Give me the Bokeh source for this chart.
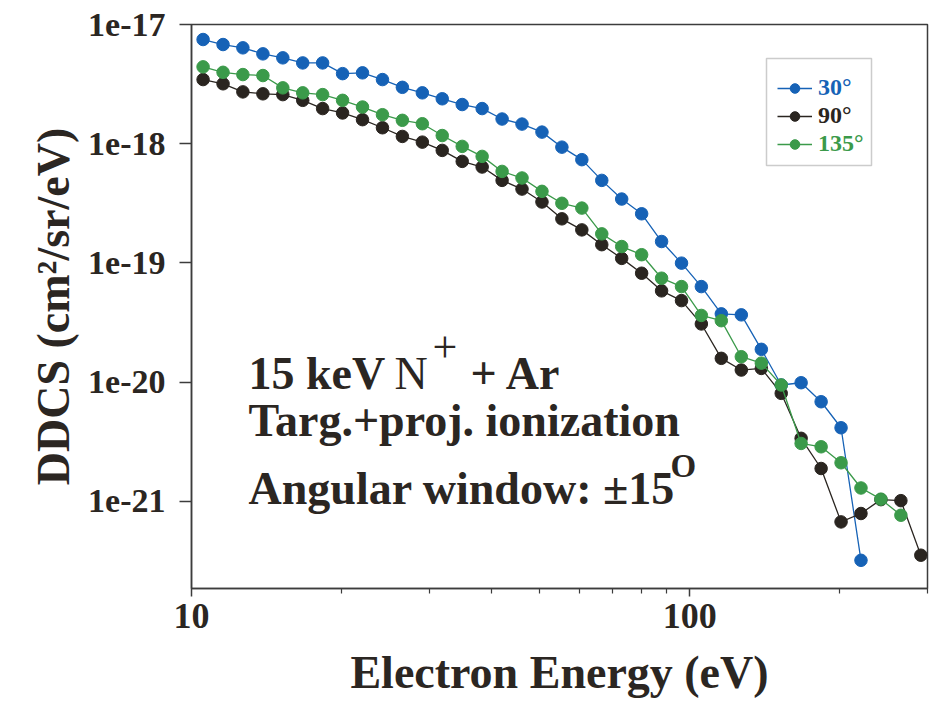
from bokeh.plotting import figure
from bokeh.models import (FixedTicker, CustomJSTickFormatter, Legend, LegendItem,
                          Label, BoxAnnotation, Range1d)
from bokeh.embed import file_html
from bokeh.resources import INLINE

# ---------------- data ----------------
energy_eV = [10.55, 11.57, 12.68, 13.91, 15.25, 16.72, 18.33, 20.10, 22.04, 24.17,
             26.50, 29.06, 31.86, 34.94, 38.31, 42.01, 46.06, 50.51, 55.38, 60.73,
             66.59, 73.01, 80.06, 87.79, 96.26, 105.5, 115.7, 126.9, 139.2, 152.6,
             167.3, 183.5, 201.2, 220.6, 241.9, 265.3, 290.9]

ddcs_30 = [7.48e-18, 6.79e-18, 6.37e-18, 5.67e-18, 5.25e-18, 4.76e-18, 4.76e-18, 3.87e-18,
           3.93e-18, 3.45e-18, 2.97e-18, 2.67e-18, 2.38e-18, 2.13e-18, 1.97e-18, 1.61e-18,
           1.46e-18, 1.25e-18, 9.35e-19, 7.34e-19, 4.92e-19, 3.43e-19, 2.58e-19, 1.51e-19,
           9.94e-20, 6.32e-20, 3.73e-20, 3.66e-20, 1.88e-20, 9.44e-21, 9.86e-21, 6.83e-21,
           4.13e-21, 3.19e-22]

ddcs_90 = [3.45e-18, 3.18e-18, 2.72e-18, 2.62e-18, 2.58e-18, 2.31e-18, 1.97e-18, 1.81e-18,
           1.59e-18, 1.36e-18, 1.15e-18, 1.03e-18, 8.78e-19, 7.10e-19, 6.37e-19, 4.92e-19,
           4.16e-19, 3.24e-19, 2.34e-19, 1.89e-19, 1.42e-19, 1.09e-19, 8.18e-20, 5.82e-20,
           4.82e-20, 3.07e-20, 1.58e-20, 1.26e-20, 1.30e-20, 8.03e-21, 3.37e-21, 1.88e-21,
           6.70e-22, 7.88e-22, 1.03e-21, 1.01e-21, 3.52e-22]

ddcs_135 = [4.41e-18, 3.97e-18, 3.80e-18, 3.73e-18, 2.94e-18, 2.67e-18, 2.58e-18, 2.31e-18,
            2.03e-18, 1.75e-18, 1.57e-18, 1.47e-18, 1.17e-18, 9.49e-19, 7.82e-19, 5.85e-19,
            5.15e-19, 3.98e-19, 3.16e-19, 2.88e-19, 1.75e-19, 1.37e-19, 1.17e-19, 7.43e-20,
            6.32e-20, 3.62e-20, 3.27e-20, 1.63e-20, 1.44e-20, 9.44e-21, 3.05e-21, 2.86e-21,
            2.10e-21, 1.29e-21, 1.04e-21, 7.62e-22]

series_labels = ["30°", "90°", "135°"]
series_colors = ["#1662b6", "#2a2520", "#3b9a4a"]

x_major_ticks = [10, 100]
x_minor_ticks = [20, 30, 40, 50, 60, 70, 80, 90, 200, 300]
y_major_ticks = [1e-21, 1e-20, 1e-19, 1e-18, 1e-17]

# ---------------- styling ----------------
FONT = "Liberation Serif"
TXT = "#2b2622"
AX = "#3c3c3c"

p = figure(width=930, height=700, output_backend="svg", toolbar_location=None,
           x_axis_type="log", y_axis_type="log",
           x_range=Range1d(10, 300), y_range=Range1d(1.85e-22, 1e-17),
           min_border_left=191, min_border_right=3, min_border_top=24,
           min_border_bottom=112)
p.background_fill_color = "white"
p.border_fill_color = "white"
p.outline_line_color = AX
p.outline_line_width = 1.5
p.xgrid.visible = False
p.ygrid.visible = False

series = [(ddcs_30, series_colors[0]), (ddcs_90, series_colors[1]), (ddcs_135, series_colors[2])]
renderers = []
for vals, col in series:
    xs = energy_eV[:len(vals)]
    rl = p.line(xs, vals, line_color=col, line_width=1.3)
    rs = p.scatter(xs, vals, size=12.5, fill_color=col, line_color=col)
    renderers.append((rl, rs))

# axes
p.xaxis.ticker = FixedTicker(ticks=x_major_ticks, minor_ticks=x_minor_ticks)
p.xaxis.formatter = CustomJSTickFormatter(code="return tick.toFixed(0);")
p.yaxis.ticker = FixedTicker(ticks=y_major_ticks, minor_ticks=[])
p.yaxis.formatter = CustomJSTickFormatter(code="return tick.toExponential(0);")

for ax in (p.xaxis[0], p.yaxis[0]):
    ax.axis_line_color = AX
    ax.axis_line_width = 1.5
    ax.major_tick_line_color = AX
    ax.major_tick_line_width = 1.5
    ax.minor_tick_line_color = AX
    ax.minor_tick_line_width = 1.2
    ax.major_tick_in = 0
    ax.minor_tick_in = 0
    ax.major_label_text_font = FONT
    ax.major_label_text_font_style = "bold"
    ax.major_label_text_font_size = "34px"
    ax.major_label_text_color = TXT
    ax.axis_label_text_font = FONT
    ax.axis_label_text_font_style = "bold"
    ax.axis_label_text_font_size = "46px"
    ax.axis_label_text_color = TXT

p.xaxis.major_tick_out = 8
p.xaxis.minor_tick_out = 5
p.xaxis.major_label_standoff = 7
p.xaxis.major_label_text_font_size = "36px"
p.xaxis.axis_label = "Electron Energy (eV)"
p.xaxis.axis_label_standoff = 16

p.yaxis.major_tick_out = 12
p.yaxis.minor_tick_out = 0
p.yaxis.major_label_standoff = 14
p.yaxis.axis_label = "DDCS (cm²/sr/eV)"
p.yaxis.axis_label_standoff = 6

# legend: frame + one row per series (text coloured like its series)
p.add_layout(BoxAnnotation(left=575, right=680, top=530, bottom=423,
                           left_units="screen", right_units="screen",
                           top_units="screen", bottom_units="screen",
                           fill_color=None, line_color="#555555", line_width=1.5))
row_locs = [487, 459, 431]
for (rl, rs), lab_text, col, yloc in zip(renderers, series_labels, series_colors, row_locs):
    leg = Legend(items=[LegendItem(label=lab_text, renderers=[rl, rs])], location=(586, yloc),
                 padding=0, margin=0, spacing=0, glyph_width=35, glyph_height=24,
                 label_standoff=6, border_line_alpha=0, background_fill_alpha=0,
                 label_text_font=FONT, label_text_font_style="bold",
                 label_text_font_size="24px", label_text_color=col)
    p.add_layout(leg)

# annotation text
def lab(x, y, text, size, style="bold"):
    p.add_layout(Label(x=x, y=y, x_units="screen", y_units="screen", text=text,
                       text_font=FONT, text_font_style=style, text_font_size=size,
                       text_color=TXT, text_baseline="alphabetic"))

lab(57, 215, "15 keV", "46px")
lab(203, 215, "N", "46px", "normal")
lab(241, 241, "+", "44px", "normal")
lab(279, 215, "+ Ar", "46px")
lab(57, 168, "Targ.+proj. ionization", "46px")
lab(57, 100, "Angular window: ±15", "46px")
lab(479, 123, "O", "33px")

open("out.html", "w").write(file_html(p, INLINE))
